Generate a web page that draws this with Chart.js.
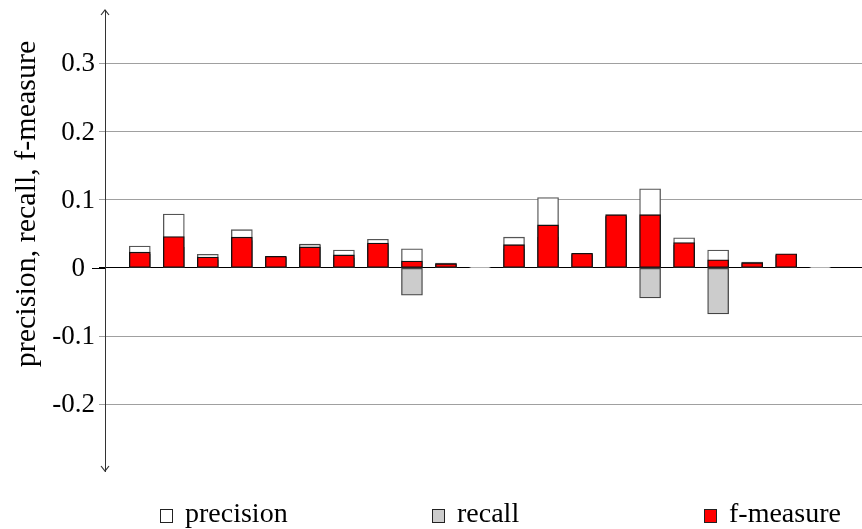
<!DOCTYPE html>
<html>
<head>
<meta charset="utf-8">
<script src="https://cdn.jsdelivr.net/npm/chart.js@4.4.1/dist/chart.umd.min.js"></script>
<style>
  html, body { margin: 0; padding: 0; background: #fff; }
  #wrap { position: relative; width: 862px; height: 529px; }
</style>
</head>
<body>
<div id="wrap"><canvas id="chart"></canvas></div>
<script>
/* ===== data ===== */
const categories = ['1', '2', '3', '4', '5', '6', '7', '8', '9', '10', '11',
                    '12', '13', '14', '15', '16', '17', '18', '19', '20', '21'];

const precision = [0.032, 0.079, 0.020, 0.056, 0.016, 0.033, 0.026, 0.042, 0.028, 0.005, 0.001,
                   0.045, 0.103, 0.020, 0.076, 0.116, 0.044, 0.026, 0.006, 0.019, 0.001];
const recall    = [0.020, 0.030, 0.012, 0.040, 0.015, 0.035, 0.014, 0.034, -0.040, 0.007, 0.001,
                   0.028, 0.045, 0.019, 0.075, -0.044, 0.033, -0.0675, 0.0085, 0.018, 0.001];
const fMeasure  = [0.023, 0.046, 0.016, 0.045, 0.017, 0.0305, 0.019, 0.0365, 0.010, 0.006, 0,
                   0.034, 0.063, 0.0215, 0.078, 0.078, 0.037, 0.012, 0.0074, 0.0207, 0];

const yTicks = [-0.2, -0.1, 0, 0.1, 0.2, 0.3];
const Y_MIN = -0.2977, Y_MAX = 0.378;

const SERIF = '"Liberation Serif", "Times New Roman", serif';

const legendItems = [
  { label: 'precision', fill: '#ffffff', x: 160 },
  { label: 'recall',    fill: '#cccccc', x: 432 },
  { label: 'f-measure', fill: '#ff0000', x: 704 }
];

const toXY = arr => arr.map((v, i) => ({ x: i, y: v }));

/* ===== extra drawing: arrow axis, zero tick, tick labels, title, legend ===== */
const decorations = {
  id: 'decorations',
  afterDraw(chart) {
    const { ctx, chartArea } = chart;
    const yScale = chart.scales.y;
    const ax = chartArea.left;

    ctx.save();
    // arrow heads on the vertical axis
    ctx.strokeStyle = '#333';
    ctx.lineWidth = 1.2;
    ctx.beginPath();
    ctx.moveTo(ax - 4, chartArea.top + 5);
    ctx.lineTo(ax, chartArea.top);
    ctx.lineTo(ax + 4, chartArea.top + 5);
    ctx.moveTo(ax - 4, chartArea.bottom - 5);
    ctx.lineTo(ax, chartArea.bottom);
    ctx.lineTo(ax + 4, chartArea.bottom - 5);
    ctx.stroke();

    // longer tick for the zero line
    const y0 = Math.round(yScale.getPixelForValue(0)) + 0.5;
    ctx.strokeStyle = '#000';
    ctx.lineWidth = 1;
    ctx.beginPath();
    ctx.moveTo(ax - 13, y0);
    ctx.lineTo(ax, y0);
    ctx.stroke();

    // tick labels: the zero label sits left of its longer tick
    ctx.fillStyle = '#000';
    ctx.font = '27px ' + SERIF;
    ctx.textAlign = 'right';
    ctx.textBaseline = 'middle';
    yScale.ticks.forEach(t => {
      const gap = t.value === 0 ? 20 : 10;
      ctx.fillText(String(t.value), ax - gap, yScale.getPixelForValue(t.value) + 1);
    });

    // axis title
    ctx.font = '30px ' + SERIF;
    ctx.textAlign = 'center';
    ctx.textBaseline = 'alphabetic';
    ctx.translate(35, 204);
    ctx.rotate(-Math.PI / 2);
    ctx.fillText('precision, recall, f-measure', 0, 0);
    ctx.restore();

    // legend row
    ctx.save();
    ctx.font = '28px ' + SERIF;
    ctx.textAlign = 'left';
    ctx.textBaseline = 'alphabetic';
    legendItems.forEach(it => {
      ctx.fillStyle = it.fill;
      ctx.fillRect(it.x + 0.5, 509.5, 12, 13);
      ctx.strokeStyle = '#222';
      ctx.lineWidth = 1;
      ctx.strokeRect(it.x + 0.5, 509.5, 12, 13);
      ctx.fillStyle = '#000';
      ctx.fillText(it.label, it.x + 25, 522);
    });
    ctx.restore();
  }
};

const barCommon = {
  barThickness: 21,
  borderSkipped: false,
  grouped: false
};

new Chart(document.getElementById('chart'), {
  type: 'bar',
  data: {
    labels: categories,
    datasets: [
      { ...barCommon, label: 'precision', data: toXY(precision), order: 3,
        backgroundColor: '#ffffff', borderColor: '#555555', borderWidth: 1.3 },
      { ...barCommon, label: 'recall', data: toXY(recall), order: 2,
        backgroundColor: '#cccccc', borderColor: '#444444', borderWidth: 1.3 },
      { ...barCommon, label: 'f-measure', data: toXY(fMeasure), order: 1,
        backgroundColor: '#ff0000', borderColor: '#111111', borderWidth: 1.3 }
    ]
  },
  options: {
    responsive: true,
    maintainAspectRatio: false,
    animation: false,
    layout: { padding: { top: 10, bottom: 58, left: 0, right: 0 } },
    plugins: { legend: { display: false }, tooltip: { enabled: false } },
    scales: {
      x: {
        type: 'linear',
        min: -1.023, max: 21.229,
        offset: false,
        display: false
      },
      y: {
        min: Y_MIN, max: Y_MAX,
        afterBuildTicks: axis => { axis.ticks = yTicks.map(v => ({ value: v })); },
        afterFit: axis => {
          axis.width = 105;
          axis.paddingTop = 0;
          axis.paddingBottom = 0;
        },
        ticks: { display: false },
        grid: {
          color: c => (c.tick && c.tick.value === 0 ? '#000' : '#a0a0a0'),
          tickColor: c => (c.tick && c.tick.value === 0 ? '#000' : '#a0a0a0'),
          tickLength: 6,
          lineWidth: 1
        },
        border: { display: true, color: '#333', width: 1 }
      }
    }
  },
  plugins: [decorations]
});
</script>
</body>
</html>
